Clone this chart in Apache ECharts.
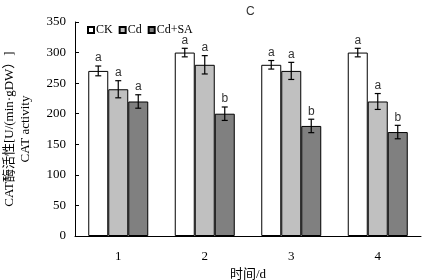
<!DOCTYPE html>
<html>
<head>
<meta charset="utf-8">
<script src="https://cdn.jsdelivr.net/npm/echarts@6/dist/echarts.min.js"></script>
<style>
  html, body { margin: 0; padding: 0; background: #fff; }
  #chart { width: 425px; height: 280px; }
</style>
</head>
<body>
<div id="chart"></div>
<script>
(function () {
  const days = ['1', '2', '3', '4'];
  const ck = [270, 300, 280, 300];
  const ckErr = [8, 7, 7, 7];
  const ckSig = ['a', 'a', 'a', 'a'];
  const cd = [240, 280, 270, 220];
  const cdErr = [14, 15, 14, 13];
  const cdSig = ['a', 'a', 'a', 'a'];
  const cdsa = [220, 200, 180, 170];
  const cdsaErr = [11, 11, 11, 11];
  const cdsaSig = ['a', 'b', 'b', 'b'];

  const serif = 'Liberation Serif, Noto Sans CJK SC, serif';
  const sans = 'Liberation Sans, Arial, sans-serif';
  const barW = 20;

  // error bar + significance letter, shifted to sit on its own bar
  function errorSeries(vals, errs, sigs, offset) {
    return {
      type: 'custom',
      silent: true,
      z: 5,
      data: vals.map((v, i) => [i, v, errs[i], sigs[i]]),
      encode: { x: 0, y: 1 },
      renderItem: function (params, api) {
        const i = api.value(0);
        const v = api.value(1);
        const e = api.value(2);
        const hi = api.coord([i, v + e]);
        const lo = api.coord([i, v - e]);
        const x = hi[0] + offset;
        const cap = 3;
        const st = { stroke: '#000', lineWidth: 1.2 };
        return {
          type: 'group',
          children: [
            { type: 'line', shape: { x1: x, y1: hi[1], x2: x, y2: lo[1] }, style: st },
            { type: 'line', shape: { x1: x - cap, y1: hi[1], x2: x + cap, y2: hi[1] }, style: st },
            { type: 'line', shape: { x1: x - cap, y1: lo[1], x2: x + cap, y2: lo[1] }, style: st },
            {
              type: 'text',
              style: {
                text: sigs[params.dataIndex],
                x: x, y: hi[1] - 2,
                align: 'center', verticalAlign: 'bottom',
                fontFamily: sans, fontSize: 12, fill: '#333'
              }
            }
          ]
        };
      }
    };
  }

  function barSeries(name, vals, color) {
    return {
      name: name,
      type: 'bar',
      data: vals,
      barWidth: barW,
      barGap: '0%',
      itemStyle: { color: color, borderColor: '#000', borderWidth: 1 }
    };
  }

  const option = {
    animation: false,
    title: {
      text: 'C',
      left: 241,
      top: 1,
      textStyle: { fontFamily: sans, fontSize: 12, fontWeight: 'normal', color: '#333' }
    },
    legend: {
      left: 82,
      top: 19,
      itemWidth: 6,
      itemHeight: 6,
      itemGap: 6,
      icon: 'rect',
      textStyle: { fontFamily: serif, fontSize: 12, color: '#000', padding: [0, 0, 0, -3] },
      data: ['CK', 'Cd', 'Cd+SA']
    },
    grid: { left: 75, right: 4, top: 22, bottom: 44, outerBoundsMode: 'none', containLabel: false },
    xAxis: {
      type: 'category',
      data: days,
      name: '时间/d',
      nameLocation: 'middle',
      nameGap: 29,
      nameTextStyle: { fontFamily: serif, fontSize: 13, color: '#000' },
      axisLine: { lineStyle: { color: '#000', width: 1 } },
      axisTick: { inside: true, length: 4, lineStyle: { color: '#000' } },
      axisLabel: { fontFamily: serif, fontSize: 13, color: '#000', margin: 14 }
    },
    yAxis: {
      type: 'value',
      min: 0,
      max: 350,
      interval: 50,
      name: 'CAT酶活性[U/(min·gDW）]\nCAT activity',
      nameLocation: 'middle',
      nameGap: 41,
      nameRotate: 90,
      nameTextStyle: { fontFamily: serif, fontSize: 13, color: '#000', lineHeight: 16 },
      axisLine: { show: true, lineStyle: { color: '#000', width: 1 } },
      axisTick: { show: true, inside: true, length: 4, lineStyle: { color: '#000' } },
      axisLabel: { fontFamily: serif, fontSize: 13, color: '#000', margin: 9 },
      splitLine: { show: false }
    },
    series: [
      barSeries('CK', ck, '#ffffff'),
      barSeries('Cd', cd, '#c0c0c0'),
      barSeries('Cd+SA', cdsa, '#808080'),
      errorSeries(ck, ckErr, ckSig, -barW),
      errorSeries(cd, cdErr, cdSig, 0),
      errorSeries(cdsa, cdsaErr, cdsaSig, barW)
    ]
  };

  const chart = echarts.init(document.getElementById('chart'));
  chart.setOption(option);
})();
</script>
</body>
</html>
